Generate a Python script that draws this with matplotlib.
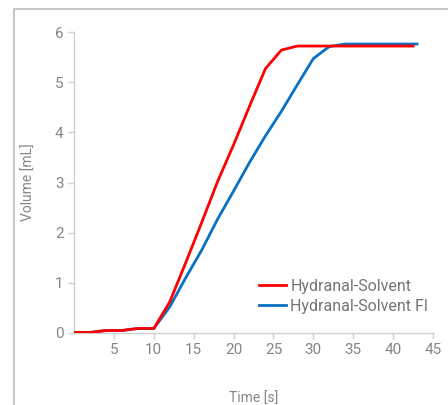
import matplotlib.pyplot as plt
import matplotlib.patches as mpatches

plt.rcParams['font.family'] = ['Roboto', 'DejaVu Sans']

# data
t_solvent = [0, 2, 4, 6, 8, 10, 12, 14, 16, 18, 20, 22, 24, 26, 28, 30, 32, 34, 36, 38, 40, 42.5]
v_solvent = [0.01, 0.01, 0.05, 0.05, 0.09, 0.09, 0.62, 1.4, 2.2, 3.02, 3.75, 4.52, 5.27, 5.64, 5.72,
             5.72, 5.72, 5.72, 5.72, 5.72, 5.72, 5.72]
t_fl = [0, 2, 4, 6, 8, 10, 12, 14, 16, 18, 20, 22, 24, 26, 28, 30, 32, 34, 36, 38, 40, 43]
v_fl = [0.01, 0.01, 0.05, 0.05, 0.09, 0.09, 0.52, 1.1, 1.65, 2.27, 2.83, 3.4, 3.93, 4.42, 4.95, 5.47,
        5.71, 5.76, 5.76, 5.76, 5.76, 5.76]

grey = '#858585'
fig = plt.figure(figsize=(4.48, 4.05), dpi=100)

# outer frame (cut off at right / bottom like the reference)
fig.patches.append(mpatches.Rectangle((14 / 448, -0.05), 1.0, 1 - 9 / 405 + 0.05,
                                      transform=fig.transFigure, fill=False,
                                      edgecolor='#c8c8c8', linewidth=1.5))

ax = fig.add_axes([74 / 448, 72 / 405, 359 / 448, 301 / 405])
ax.plot(t_fl, v_fl, color='#0a70c2', linewidth=2, label='Hydranal-Solvent Fl', zorder=3)
ax.plot(t_solvent, v_solvent, color='#ff0000', linewidth=2, label='Hydranal-Solvent', zorder=4)

ax.set_xlim(0, 45)
ax.set_ylim(0, 6)
ax.set_xticks([5, 10, 15, 20, 25, 30, 35, 40, 45])
ax.set_yticks([0, 1, 2, 3, 4, 5, 6])
for s in ['top', 'right']:
    ax.spines[s].set_visible(False)
for s in ['left', 'bottom']:
    ax.spines[s].set_color('#d0d0d0')
    ax.spines[s].set_linewidth(1)
ax.tick_params(colors='#d0d0d0', labelcolor=grey, labelsize=11, length=4, width=1)

ax.set_xlabel('Time [s]', color=grey, fontsize=10, labelpad=25)
ax.set_ylabel('Volume [mL]', color=grey, fontsize=10, labelpad=14)

h, l = ax.get_legend_handles_labels()
leg = ax.legend(h[::-1], l[::-1], loc='upper left', bbox_to_anchor=(259 / 448, 1 - 279 / 405),
                bbox_transform=fig.transFigure, frameon=False, fontsize=11.5,
                handlelength=1.7, handletextpad=0.25, labelspacing=0.3, borderpad=0, borderaxespad=0)
for txt in leg.get_texts():
    txt.set_color('#747474')

fig.savefig('out.png', dpi=100)
